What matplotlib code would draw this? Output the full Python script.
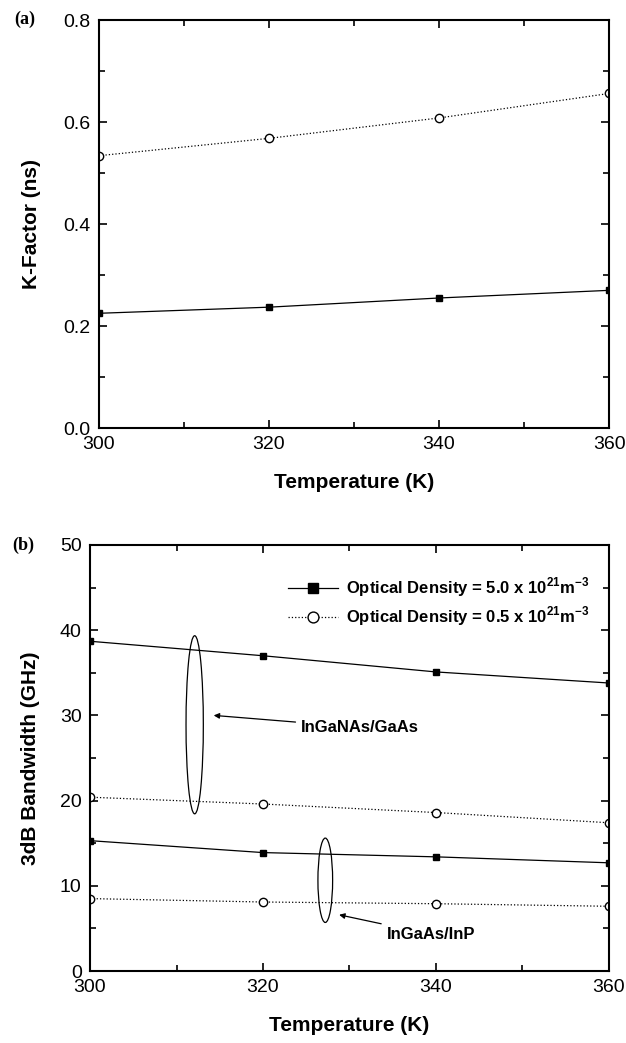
'''
plot.py
K-factor and 3dB bandwidth vs temperature
'''
import matplotlib.pyplot as plt
from matplotlib.patches import Ellipse
from matplotlib.ticker import MultipleLocator

#temperatures
T = [300, 320, 340, 360]

#panel (a) K-factor in ns
k_high = [0.225, 0.237, 0.255, 0.270]
k_low = [0.534, 0.568, 0.608, 0.656]

#panel (b) bandwidth in GHz
bw_gan_high = [38.7, 37.0, 35.1, 33.8]
bw_gan_low = [20.4, 19.6, 18.6, 17.4]
bw_inp_high = [15.3, 13.9, 13.4, 12.7]
bw_inp_low = [8.5, 8.1, 7.9, 7.6]

legend_labels = [r'Optical Density = 5.0 x 10$^{21}$m$^{-3}$',
                 r'Optical Density = 0.5 x 10$^{21}$m$^{-3}$']

plt.rcParams['font.family'] = ['Liberation Sans', 'DejaVu Sans']
plt.rcParams['mathtext.fontset'] = 'custom'
plt.rcParams['mathtext.rm'] = 'Liberation Sans:bold'

fig = plt.figure(figsize=(6.26, 10.43), dpi=100)
ax1 = fig.add_axes([0.158, 0.5896, 0.815, 0.3912])
ax2 = fig.add_axes([0.1438, 0.069, 0.829, 0.4085])

def style(ax):
    ax.set_xlim(300, 360)
    ax.xaxis.set_major_locator(MultipleLocator(20))
    ax.xaxis.set_minor_locator(MultipleLocator(10))
    ax.tick_params(which='both', direction='in', top=True, right=True,
                   labelsize=14, width=1.2, pad=6)
    ax.tick_params(which='major', length=6)
    ax.tick_params(which='minor', length=4)
    for s in ax.spines.values():
        s.set_linewidth(1.5)
    ax.set_xlabel('Temperature (K)', fontsize=15, fontweight='bold', labelpad=14)

#panel (a)
ax1.plot(T, k_high, 'k-', marker='s', markersize=5, linewidth=0.9)
ax1.plot(T, k_low, 'k:', marker='o', markersize=6, markerfacecolor='white',
         linewidth=0.9)
ax1.set_ylim(0, 0.8)
ax1.yaxis.set_major_locator(MultipleLocator(0.2))
ax1.yaxis.set_minor_locator(MultipleLocator(0.1))
style(ax1)
ax1.set_ylabel('K-Factor (ns)', fontsize=15, fontweight='bold', labelpad=16)
fig.text(0.022, 0.981, '(a)', family='Liberation Serif', fontweight='bold',
         fontsize=13, va='center')

#panel (b)
ax2.plot(T, bw_gan_high, 'k-', marker='s', markersize=5, linewidth=0.9,
         label=legend_labels[0])
ax2.plot(T, bw_gan_low, 'k:', marker='o', markersize=6, markerfacecolor='white',
         linewidth=0.9, label=legend_labels[1])
ax2.plot(T, bw_inp_high, 'k-', marker='s', markersize=5, linewidth=0.9)
ax2.plot(T, bw_inp_low, 'k:', marker='o', markersize=6, markerfacecolor='white',
         linewidth=0.9)
ax2.set_ylim(0, 50)
ax2.yaxis.set_major_locator(MultipleLocator(10))
ax2.yaxis.set_minor_locator(MultipleLocator(5))
style(ax2)
ax2.set_ylabel('3dB Bandwidth (GHz)', fontsize=15, fontweight='bold', labelpad=14)
fig.text(0.02, 0.4775, '(b)', family='Liberation Serif', fontweight='bold',
         fontsize=13, va='center')

leg = ax2.legend(loc='upper right', bbox_to_anchor=(0.985, 0.955), frameon=False,
                 handlelength=3.0, handletextpad=0.5, borderaxespad=0.3,
                 labelspacing=0.3, markerscale=1.3,
                 prop={'weight': 'bold', 'size': 12})

#ellipses and arrows
ax2.add_patch(Ellipse((312.1, 28.9), 2.0, 20.9, fill=False, lw=0.9))
ax2.add_patch(Ellipse((327.2, 10.65), 1.7, 9.9, fill=False, lw=0.9))
ax2.annotate('InGaNAs/GaAs', xy=(314.3, 30.0), xytext=(324.4, 28.6),
             fontsize=12, fontweight='bold', va='center',
             arrowprops=dict(arrowstyle='-|>', color='k', lw=0.9,
                             shrinkA=2, shrinkB=0, mutation_scale=8))
ax2.annotate('InGaAs/InP', xy=(328.8, 6.6), xytext=(334.3, 4.3),
             fontsize=12, fontweight='bold', va='center',
             arrowprops=dict(arrowstyle='-|>', color='k', lw=0.9,
                             shrinkA=2, shrinkB=0, mutation_scale=8))

plt.savefig('out.png', dpi=100)
